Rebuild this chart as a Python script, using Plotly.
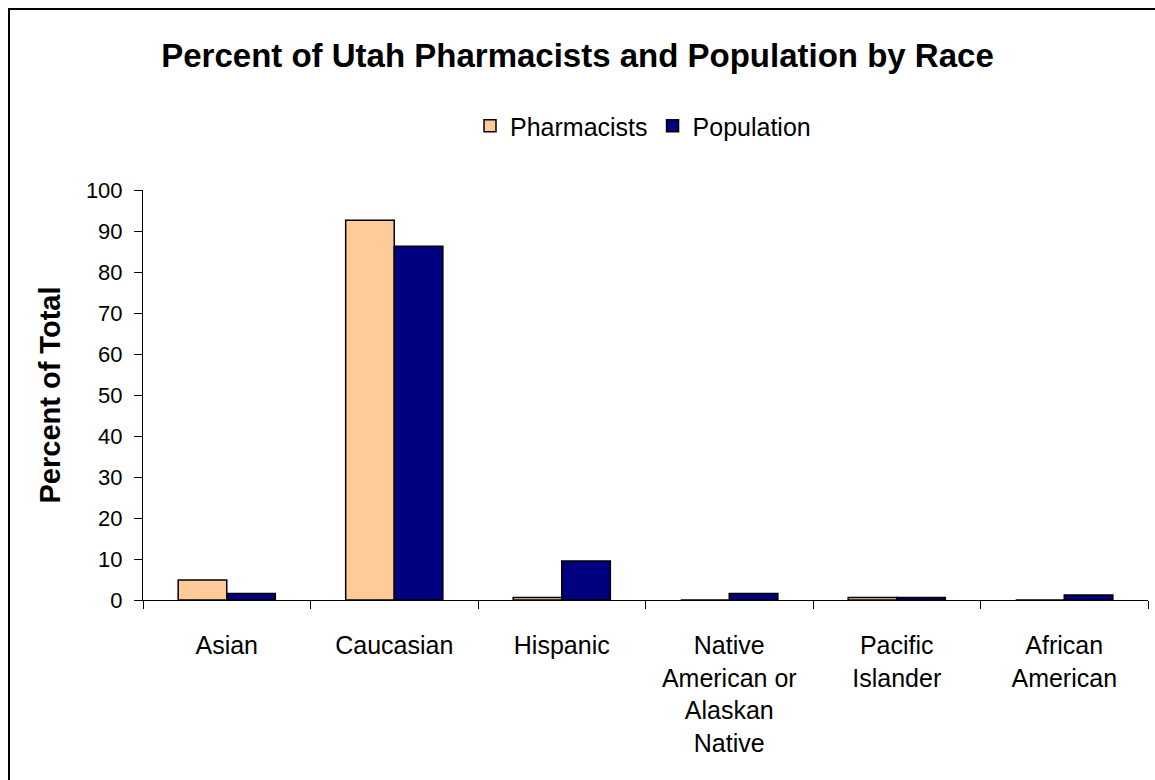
import plotly.graph_objects as go

# Race categories and percentages
categories = ["Asian", "Caucasian", "Hispanic",
              "Native<br>American or<br>Alaskan<br>Native",
              "Pacific<br>Islander", "African<br>American"]
pharmacists = [4.9, 92.6, 0.6, 0.0, 0.6, 0.0]
population = [1.6, 86.3, 9.5, 1.6, 0.6, 1.2]
y_ticks = [0, 10, 20, 30, 40, 50, 60, 70, 80, 90, 100]

FONT = "Liberation Sans, Arial, sans-serif"
W, H = 1155, 780
L, R, T, B = 143, 7, 190, 180

fig = go.Figure()
fig.add_trace(go.Bar(name="Pharmacists", x=categories, y=pharmacists,
                     marker=dict(color="#FFCC99", line=dict(color="black", width=1.5))))
fig.add_trace(go.Bar(name="Population", x=categories, y=population,
                     marker=dict(color="#000080", line=dict(color="black", width=1.5))))

pw = W - L - R
ph = H - T - B

fig.update_layout(
    width=W, height=H,
    margin=dict(l=L, r=R, t=T, b=B, pad=0),
    paper_bgcolor="white", plot_bgcolor="white",
    barmode="group", bargap=0.42, bargroupgap=0,
    font=dict(family=FONT, color="black", size=22),
    title=dict(text="<b>Percent of Utah Pharmacists and Population by Race</b>",
               font=dict(family=FONT, size=33, color="black"),
               x=0.5, xref="container", xanchor="center",
               y=1 - 55 / H, yref="container", yanchor="middle"),
    legend=dict(orientation="h", x=470 / W, xref="container", xanchor="left",
                y=1 - 126 / H, yref="container", yanchor="middle",
                font=dict(family=FONT, size=25, color="black"),
                bgcolor="rgba(0,0,0,0)", itemwidth=30, tracegroupgap=0),
    xaxis=dict(showline=True, linecolor="black", linewidth=1,
               ticks="outside", ticklen=8, tickcolor="black", tickson="boundaries",
               ticklabelstandoff=23,
               tickfont=dict(family=FONT, size=25, color="black"),
               showgrid=False, zeroline=False),
    yaxis=dict(range=[0, 100], tickvals=y_ticks, showline=True, linecolor="black",
               linewidth=1, ticks="outside", ticklen=8, tickcolor="black",
               ticklabelstandoff=7,
               tickfont=dict(family=FONT, size=22, color="black"),
               showgrid=False, zeroline=False,
               title=dict(text="<b>Percent of Total</b>", standoff=16,
                          font=dict(family=FONT, size=29, color="black"))),
    showlegend=True,
)

# Outer chart frame
fig.add_shape(type="rect", xref="paper", yref="paper",
              x0=(9 - L) / pw, x1=(W + 20 - L) / pw,
              y0=-(H + 20 - T - ph) / ph, y1=1 + (T - 9) / ph,
              line=dict(color="black", width=2), fillcolor="rgba(0,0,0,0)",
              layer="below")

fig.write_html("out.html")
